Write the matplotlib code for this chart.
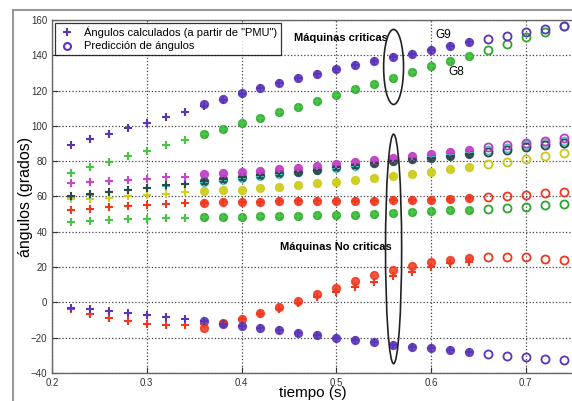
import numpy as np
import matplotlib
matplotlib.use("Agg")
import matplotlib.pyplot as plt
from matplotlib.patches import Ellipse, Rectangle

plt.rcParams['font.family'] = ['Liberation Sans', 'DejaVu Sans']

# --- Data ---
# calculated angles (PMU) at t = 0.22..0.64, predicted angles at t = 0.36..0.74
t_calc = np.round(np.arange(0.22, 0.645, 0.02), 2)
t_pred = np.round(np.arange(0.36, 0.745, 0.02), 2)

g9_calc = [89.4, 92.4, 95.4, 98.6, 101.5, 104.9, 108.0, 111.5, 114.8, 118.3, 121.3,
           124.1, 127.1, 129.4, 132.0, 134.3, 136.6, 138.9, 141.0, 143.2, 145.0, 147.4]
g9_pred = [112.4, 115.2, 118.5, 121.3, 124.1, 127.1, 129.4, 132.0, 134.3, 136.6,
           138.9, 141.0, 143.2, 145.0, 147.4, 149.2, 151.0, 153.0, 154.9, 156.8]

g8_calc = [73.5, 76.5, 79.4, 83.0, 85.6, 89.2, 92.0, 95.2, 98.2, 101.5, 104.6,
           107.7, 110.9, 114.1, 117.3, 120.7, 123.6, 127.0, 130.4, 133.8, 136.6, 139.8]
g8_pred = [95.2, 98.2, 101.5, 104.6, 107.7, 110.9, 114.1, 117.3, 120.7, 123.6,
           127.0, 130.4, 133.8, 136.6, 139.8, 143.2, 146.4, 150.2, 153.0, 156.5]

mag_calc = [67.8, 68.2, 68.6, 69.3, 69.7, 70.9, 71.2, 72.6, 73.1, 73.9, 74.6,
            75.4, 76.3, 77.3, 78.4, 79.7, 80.7, 82.0, 82.9, 83.9, 85.2, 86.2]
mag_pred = [72.6, 73.1, 73.9, 74.6, 75.4, 76.3, 77.3, 78.4, 79.7, 80.7,
            82.0, 82.9, 83.9, 85.2, 86.2, 87.9, 89.0, 90.5, 91.6, 93.0]

dk_calc = [60.0, 61.4, 62.7, 63.7, 65.0, 66.3, 67.3, 68.8, 69.9, 70.9, 72.2,
           73.1, 74.0, 75.0, 76.6, 77.6, 78.9, 80.1, 81.1, 82.0, 82.9, 83.9]
dk_pred = [68.8, 69.9, 70.9, 72.2, 73.1, 74.0, 75.0, 76.6, 77.6, 78.9,
           80.1, 81.1, 82.0, 82.9, 83.9, 85.2, 86.3, 87.9, 89.0, 90.1]

cy_calc = [59.5, 61.0, 62.5, 63.5, 64.6, 65.8, 66.9, 68.2, 69.3, 70.3, 71.6,
           72.6, 73.6, 74.8, 76.0, 77.5, 79.0, 80.3, 81.4, 82.5, 83.6, 84.6]
cy_pred = [68.2, 69.3, 70.3, 71.6, 72.6, 73.6, 74.8, 76.0, 77.5, 79.0,
           80.3, 81.4, 82.5, 83.6, 84.6, 86.2, 87.4, 88.9, 90.1, 91.3]

ye_calc = [58.4, 58.8, 59.3, 60.3, 61.0, 61.6, 62.4, 62.9, 63.5, 63.9, 64.8,
           65.6, 66.5, 67.5, 68.2, 69.3, 70.5, 71.6, 72.7, 74.0, 75.4, 76.7]
ye_pred = [62.9, 63.5, 63.9, 64.8, 65.6, 66.5, 67.5, 68.2, 69.3, 70.5,
           71.6, 72.7, 74.0, 75.4, 76.7, 78.4, 79.7, 81.2, 83.1, 84.5]

rd_calc = [52.3, 53.1, 53.9, 54.6, 55.2, 55.7, 56.1, 56.5, 56.9, 56.9, 57.1,
           57.4, 57.4, 57.4, 57.6, 57.6, 57.6, 58.0, 58.0, 58.0, 58.6, 59.1]
rd_pred = [56.5, 56.9, 56.9, 57.1, 57.4, 57.4, 57.4, 57.6, 57.6, 57.6,
           58.0, 58.0, 58.0, 58.6, 59.1, 59.9, 60.3, 61.0, 61.8, 62.7]

gl_calc = [45.4, 45.9, 46.7, 47.1, 47.3, 47.6, 47.8, 48.2, 48.4, 48.6, 48.7,
           49.0, 49.2, 49.5, 49.6, 49.7, 50.1, 50.8, 51.2, 51.8, 52.2, 52.5]
gl_pred = [48.2, 48.4, 48.6, 48.7, 49.0, 49.2, 49.5, 49.6, 49.7, 50.1,
           50.8, 51.2, 51.8, 52.2, 52.5, 53.1, 53.5, 54.3, 55.0, 55.9]

rl_calc = [-3.8, -6.8, -9.0, -10.6, -12.2, -12.6, -12.6, -12.5, -11.5, -9.5, -6.5,
           -3.5, -0.5, 2.9, 5.7, 8.9, 11.6, 15.0, 17.4, 19.9, 22.1, 22.9]
rl_pred = [-14.5, -11.8, -9.2, -5.8, -2.8, 1.0, 4.9, 8.3, 12.1, 15.5,
           18.3, 20.6, 22.9, 24.0, 25.2, 25.5, 25.7, 25.5, 24.8, 24.0]

pl_calc = [-3.0, -3.6, -4.7, -5.8, -7.0, -8.1, -9.2, -10.6, -12.0, -13.4, -14.3,
           -15.6, -17.3, -18.5, -20.0, -21.3, -22.4, -24.0, -25.1, -26.0, -27.0, -28.0]
pl_pred = [-10.6, -12.0, -13.4, -14.3, -15.6, -17.3, -18.5, -20.0, -21.3, -22.4,
           -24.0, -25.1, -26.0, -27.0, -28.0, -29.3, -30.2, -30.8, -32.1, -32.8]

PURPLE = "#5A35B8"
series = [
    (rd_calc, rd_pred, "#F03820", "#F03820"),
    (gl_calc, gl_pred, "#44C844", "#2EA52E"),
    (ye_calc, ye_pred, "#D0D020", "#C8C818"),
    (cy_calc, cy_pred, "#40C4C8", "#40C4C8"),
    (dk_calc, dk_pred, "#2E4848", "#2E4848"),
    (mag_calc, mag_pred, "#C845CC", "#B83CC0"),
    (rl_calc, rl_pred, "#F03820", "#F03820"),
    (pl_calc, pl_pred, PURPLE, PURPLE),
    (g8_calc, g8_pred, "#44C844", "#2EA52E"),
    (g9_calc, g9_pred, PURPLE, PURPLE),
]

fig = plt.figure(figsize=(5.72, 4.01), dpi=100)
ax = fig.add_axes([52 / 572, 1 - 373 / 401, 1 - 52 / 572 + 0.002, (373 - 20) / 401])

overlap = t_pred <= 0.645
for calc, pred, c_plus, c_circ in series:
    pred = np.array(pred)
    # predicted points that coincide with PMU values look solid in the original
    ax.plot(t_pred[overlap], pred[overlap], 'o', ms=5.5, mfc=c_circ, mec=c_circ,
            mew=1.2, alpha=0.85, zorder=3)
    ax.plot(t_pred[~overlap], pred[~overlap], 'o', ms=5.8, mfc='none', mec=c_circ,
            mew=1.3, zorder=3)
    ax.plot(t_calc, calc, '+', ms=6, color=c_plus, mew=1.5, zorder=4)

# legend handles
ax.plot([], [], '+', ms=6, color=PURPLE, mew=1.5, label='Ángulos calculados (a partir de "PMU")')
ax.plot([], [], 'o', ms=5, mfc='none', mec=PURPLE, mew=1.5, label='Predicción de ángulos')
leg = ax.legend(loc='upper left', fontsize=8, frameon=True, fancybox=False,
                borderaxespad=0.3, handletextpad=0.8, borderpad=0.3,
                labelspacing=0.3, handlelength=1.5)
leg.get_frame().set_edgecolor('black')
leg.get_frame().set_linewidth(0.9)

# annotations
ax.text(0.455, 149.8, "Máquinas criticas", fontsize=8, fontweight='bold', va='center')
ax.text(0.441, 31.4, "Máquinas No criticas", fontsize=8, fontweight='bold', va='center')
ax.text(0.605, 151.5, "G9", fontsize=8.5, va='center')
ax.text(0.618, 130.5, "G8", fontsize=8.5, va='center')
ax.add_patch(Ellipse((0.5605, 133.4), 0.021, 42.5, fill=False, ec='#222222', lw=1.2, zorder=5))
ax.add_patch(Ellipse((0.5605, 30.3), 0.017, 130, fill=False, ec='#222222', lw=1.2, zorder=5))

ax.set_xlim(0.2, 0.75)
ax.set_ylim(-40, 160)
ax.set_xticks(np.arange(0.2, 0.75, 0.1))
ax.set_yticks(np.arange(-40, 161, 20))
ax.set_xticklabels(["0.2", "0.3", "0.4", "0.5", "0.6", "0.7"])
ax.tick_params(direction='in', labelsize=7, length=4, colors='#333333')
ax.grid(True, linestyle=':', color='#444444', linewidth=0.9)
for s in ax.spines.values():
    s.set_color('#666666')
    s.set_linewidth(1.0)

ax.set_xlabel("tiempo (s)", fontsize=11, labelpad=-1)
ax.set_ylabel("ángulos (grados)", fontsize=11.5, labelpad=-2)

# outer frame of the original screenshot
fig.patches.append(Rectangle((13 / 572, -0.1), 1.2, 1.1 - 10 / 401, transform=fig.transFigure,
                             fill=False, ec='#999999', lw=1.5))

fig.savefig("out.png", dpi=100)
